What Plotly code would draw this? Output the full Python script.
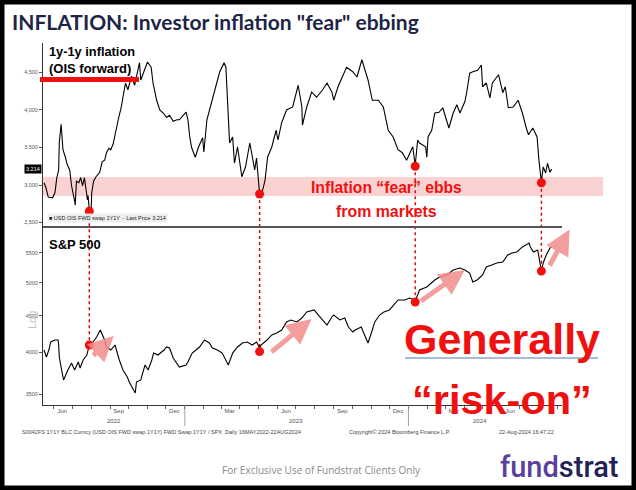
import math
import pandas as pd
import plotly.graph_objects as go

# ---------------- data ----------------
infl_dates = [
    "2022-05-16", "2022-05-19", "2022-05-23", "2022-05-30", "2022-06-03", "2022-06-06", "2022-06-09",
    "2022-06-10", "2022-06-13", "2022-06-14", "2022-06-16", "2022-06-20", "2022-06-23", "2022-06-27",
    "2022-06-30", "2022-07-05", "2022-07-06", "2022-07-08", "2022-07-12", "2022-07-15", "2022-07-18",
    "2022-07-21", "2022-07-25", "2022-07-26", "2022-07-27", "2022-07-29", "2022-08-01", "2022-08-02",
    "2022-08-05", "2022-08-09", "2022-08-15", "2022-08-17", "2022-08-19", "2022-08-23", "2022-08-26",
    "2022-08-30", "2022-09-02", "2022-09-06", "2022-09-09", "2022-09-12", "2022-09-15", "2022-09-19",
    "2022-09-22", "2022-09-26", "2022-09-30", "2022-10-06", "2022-10-11", "2022-10-19", "2022-10-21",
    "2022-10-26", "2022-11-01", "2022-11-07", "2022-11-10", "2022-11-16", "2022-11-21", "2022-11-28",
    "2022-12-02", "2022-12-07", "2022-12-13", "2022-12-19", "2022-12-23", "2023-01-03", "2023-01-06",
    "2023-01-09", "2023-01-12", "2023-01-18", "2023-01-23", "2023-01-30", "2023-02-01", "2023-02-06",
    "2023-02-14", "2023-02-22", "2023-02-27", "2023-03-06", "2023-03-09", "2023-03-13", "2023-03-15",
    "2023-03-20", "2023-03-23", "2023-03-28", "2023-04-04", "2023-04-10", "2023-04-17", "2023-04-20",
    "2023-04-25", "2023-04-28", "2023-05-03", "2023-05-08", "2023-05-12", "2023-05-16", "2023-05-23",
    "2023-05-30", "2023-06-02", "2023-06-08", "2023-06-16", "2023-06-26", "2023-06-30", "2023-07-05",
    "2023-07-11", "2023-07-12", "2023-07-19", "2023-07-27", "2023-08-04", "2023-08-14", "2023-08-21",
    "2023-08-29", "2023-09-01", "2023-09-08", "2023-09-15", "2023-09-22", "2023-10-02", "2023-10-09",
    "2023-10-17", "2023-10-23", "2023-10-27", "2023-11-03", "2023-11-13", "2023-11-21", "2023-11-29",
    "2023-12-07", "2023-12-15", "2023-12-22", "2023-12-29", "2024-01-08", "2024-01-12", "2024-01-16",
    "2024-01-19", "2024-01-29", "2024-01-31", "2024-02-02", "2024-02-08", "2024-02-13", "2024-02-20",
    "2024-02-26", "2024-03-01", "2024-03-07", "2024-03-14", "2024-03-20", "2024-03-25", "2024-04-02",
    "2024-04-05", "2024-04-10", "2024-04-15", "2024-04-23", "2024-04-29", "2024-05-01", "2024-05-07",
    "2024-05-13", "2024-05-17", "2024-05-27", "2024-06-03", "2024-06-07", "2024-06-12", "2024-06-20",
    "2024-06-28", "2024-07-05", "2024-07-11", "2024-07-15", "2024-07-22", "2024-07-29", "2024-08-01",
    "2024-08-05", "2024-08-08", "2024-08-12", "2024-08-15", "2024-08-19", "2024-08-22",
]
infl_vals = [
    3.03, 2.97, 2.84, 2.83, 2.90, 3.10, 3.20,
    3.56, 3.81, 3.73, 3.47, 3.37, 3.27, 3.20,
    2.99, 2.79, 2.73, 3.05, 3.03, 3.10, 2.99,
    3.10, 2.85, 2.80, 2.86, 2.66, 2.68, 2.90,
    3.05, 3.11, 3.17, 3.25, 3.31, 3.33, 3.43,
    3.49, 3.47, 3.55, 3.67, 3.81, 3.90, 4.03,
    4.16, 4.36, 4.27, 4.45, 4.33, 4.63, 4.40,
    4.52, 4.64, 4.57, 4.36, 4.13, 4.00, 3.95,
    3.90, 3.93, 3.85, 3.87, 3.87, 3.97, 3.87,
    3.64, 3.50, 3.37, 3.50, 3.63, 3.44, 3.87,
    4.13, 4.36, 4.51, 4.63, 4.57, 3.73, 3.56,
    3.64, 3.29, 3.51, 3.11, 3.24, 3.56, 3.43,
    3.20, 3.36, 2.88, 2.93, 3.07, 3.37, 3.51,
    3.73, 3.60, 3.83, 4.00, 4.04, 4.17, 4.33,
    4.04, 3.80, 4.04, 4.24, 4.17, 4.27, 4.36,
    4.24, 4.13, 4.31, 4.44, 4.57, 4.51, 4.44,
    4.67, 4.49, 4.40, 4.13, 4.13, 4.04, 3.73,
    3.64, 3.47, 3.43, 3.33, 3.51, 3.26, 3.60,
    3.56, 3.51, 3.37, 3.64, 3.73, 3.96, 3.97,
    4.03, 3.91, 3.76, 3.96, 4.07, 3.96, 4.11,
    4.23, 4.49, 4.51, 4.53, 4.60, 4.31, 4.36,
    4.16, 4.36, 4.47, 4.23, 4.31, 4.03, 4.04,
    4.13, 3.96, 3.77, 3.67, 3.76, 3.64, 3.33,
    3.04, 3.24, 3.16, 3.29, 3.17, 3.214,
]

spx_dates = [
    "2022-05-16", "2022-05-20", "2022-05-24", "2022-05-27", "2022-06-03", "2022-06-08", "2022-06-09",
    "2022-06-10", "2022-06-13", "2022-06-16", "2022-06-17", "2022-06-24", "2022-06-30", "2022-07-05",
    "2022-07-11", "2022-07-14", "2022-07-19", "2022-07-25", "2022-07-29", "2022-08-04", "2022-08-10",
    "2022-08-16", "2022-08-18", "2022-08-23", "2022-08-26", "2022-09-02", "2022-09-09", "2022-09-13",
    "2022-09-16", "2022-09-22", "2022-09-29", "2022-10-03", "2022-10-07", "2022-10-12", "2022-10-14",
    "2022-10-21", "2022-10-28", "2022-11-02", "2022-11-08", "2022-11-11", "2022-11-18", "2022-11-28",
    "2022-12-02", "2022-12-07", "2022-12-13", "2022-12-19", "2022-12-23", "2023-01-03", "2023-01-06",
    "2023-01-13", "2023-01-20", "2023-01-25", "2023-02-02", "2023-02-10", "2023-02-15", "2023-02-23",
    "2023-03-03", "2023-03-13", "2023-03-20", "2023-03-28", "2023-04-05", "2023-04-13", "2023-04-21",
    "2023-04-28", "2023-05-03", "2023-05-05", "2023-05-15", "2023-05-23", "2023-05-31", "2023-06-08",
    "2023-06-16", "2023-06-23", "2023-07-03", "2023-07-11", "2023-07-19", "2023-07-31", "2023-08-07",
    "2023-08-14", "2023-08-21", "2023-08-29", "2023-09-01", "2023-09-11", "2023-09-19", "2023-09-25",
    "2023-10-02", "2023-10-06", "2023-10-16", "2023-10-20", "2023-10-27", "2023-11-03", "2023-11-07",
    "2023-11-15", "2023-11-22", "2023-12-01", "2023-12-08", "2023-12-15", "2023-12-26", "2024-01-03",
    "2024-01-11", "2024-01-12", "2024-01-16", "2024-01-19", "2024-01-31", "2024-02-13", "2024-02-21",
    "2024-03-04", "2024-03-14", "2024-03-25", "2024-04-02", "2024-04-10", "2024-04-15", "2024-04-22",
    "2024-05-01", "2024-05-07", "2024-05-16", "2024-05-24", "2024-06-03", "2024-06-11", "2024-06-18",
    "2024-06-26", "2024-07-05", "2024-07-16", "2024-07-18", "2024-07-23", "2024-07-30", "2024-08-01",
    "2024-08-05", "2024-08-08", "2024-08-13", "2024-08-19", "2024-08-22",
]
spx_vals = [
    4030, 3941, 4030, 4135, 4161, 4161, 4095,
    3941, 3816, 3696, 3661, 3780, 3866, 3780,
    3878, 3804, 3903, 3966, 4095, 4135, 4201,
    4297, 4256, 4161, 4069, 4030, 4095, 3966,
    3903, 3780, 3696, 3626, 3579, 3511, 3637,
    3661, 3841, 3780, 3903, 3991, 3966, 4030,
    4069, 4056, 3928, 3866, 3816, 3841, 3878,
    3991, 4030, 4069, 4161, 4122, 4056, 4030,
    3991, 3841, 3991, 4069, 4122, 4135, 4095,
    4135, 4060, 4090, 4161, 4229, 4256, 4297,
    4409, 4437, 4409, 4465, 4552, 4582, 4508,
    4437, 4366, 4480, 4508, 4437, 4465, 4338,
    4269, 4297, 4338, 4256, 4122, 4297, 4409,
    4508, 4552, 4582, 4655, 4731, 4731, 4761,
    4731, 4720, 4807, 4885, 4932, 5044, 5093,
    5125, 5208, 5241, 5208, 5158, 5012, 5044,
    5125, 5259, 5292, 5326, 5343, 5465, 5500,
    5517, 5607, 5679, 5607, 5517, 5553, 5412,
    5190, 5326, 5465, 5589, 5600,
]

# "fear ebbs" events (red dots) on both panels
event_dates = ["2022-07-29", "2023-05-03", "2024-01-12", "2024-08-05"]
event_infl = [2.65, 2.88, 3.25, 3.03]
event_spx = [4095, 4010, 4700, 5190]

# pink "risk-on" arrows on the S&P panel (tail -> head)
arrow_tail_dates = ["2022-08-02", "2023-05-20", "2024-01-19", "2024-08-17"]
arrow_tail_vals = [3941, 3991, 4700, 5259]
arrow_head_dates = ["2022-09-07", "2023-07-27", "2024-04-02", "2024-09-20"]
arrow_head_vals = [4215, 4451, 5208, 5930]

infl_band = [2.853, 3.107]
last_price = 3.214

infl_ticks = [2.5, 3.0, 3.5, 4.0, 4.5]
infl_ticktext = ["2,500", "3,000", "3,500", "4,000", "4,500"]
spx_ticks = [3500, 4000, 4500, 5000, 5500]
spx_ticktext = ["3500", "4000", "4500", "5000", "5500"]

month_label_dates = ["2022-06-15", "2022-09-15", "2022-12-15", "2023-03-15", "2023-06-15",
                     "2023-09-15", "2023-12-15", "2024-03-15", "2024-06-15"]
month_labels = ["Jun", "Sep", "Dec", "Mar", "Jun", "Sep", "Dec", "Mar", "Jun"]
year_label_dates = ["2022-09-08", "2023-07-02", "2024-04-27"]
year_labels = ["2022", "2023", "2024"]
year_breaks = ["2023-01-01", "2024-01-01"]
month_starts = [d.strftime("%Y-%m-%d") for d in pd.date_range("2022-06-01", "2024-09-01", freq="MS")]

# ---------------- layout helpers ----------------
W, H = 636, 490


def fx(p):
    return p / W


def fy(p):
    return 1 - p / H


X_DOMAIN = [fx(43), fx(562)]
X_RANGE = ["2022-05-14 10:00", "2024-09-07 16:00"]
Y1_DOMAIN = [fy(228), fy(43)]
Y1_RANGE = [2.427, 4.893]
Y2_DOMAIN = [fy(405), fy(228)]
Y2_RANGE = [math.log10(3379), math.log10(5958)]


def infl_to_paper(v):
    f = (v - Y1_RANGE[0]) / (Y1_RANGE[1] - Y1_RANGE[0])
    return Y1_DOMAIN[0] + f * (Y1_DOMAIN[1] - Y1_DOMAIN[0])


def spx_to_paper(v):
    f = (math.log10(v) - Y2_RANGE[0]) / (Y2_RANGE[1] - Y2_RANGE[0])
    return Y2_DOMAIN[0] + f * (Y2_DOMAIN[1] - Y2_DOMAIN[0])


BOLD = "Liberation Sans, Arial, sans-serif"
SANS = "Liberation Sans, Arial, sans-serif"
RED = "#f01010"

fig = go.Figure()
fig.add_trace(go.Scatter(x=infl_dates, y=infl_vals, xaxis="x", yaxis="y", mode="lines",
                         line=dict(color="black", width=1.1), hoverinfo="skip"))
fig.add_trace(go.Scatter(x=spx_dates, y=spx_vals, xaxis="x", yaxis="y2", mode="lines",
                         line=dict(color="black", width=1.1), hoverinfo="skip"))
fig.add_trace(go.Scatter(x=event_dates, y=event_infl, xaxis="x", yaxis="y", mode="markers",
                         marker=dict(size=9, color=RED), hoverinfo="skip"))
fig.add_trace(go.Scatter(x=event_dates, y=event_spx, xaxis="x", yaxis="y2", mode="markers",
                         marker=dict(size=9, color=RED), hoverinfo="skip"))

shapes = []
# pink band
shapes.append(dict(type="rect", xref="paper", yref="y", x0=fx(43), x1=fx(603),
                   y0=infl_band[0], y1=infl_band[1], fillcolor="rgba(245,130,130,0.36)",
                   line=dict(width=0), layer="below"))
# dotted connectors
for d, vi, vs in zip(event_dates, event_infl, event_spx):
    shapes.append(dict(type="line", xref="x", yref="paper", x0=d, x1=d,
                       y0=infl_to_paper(vi), y1=spx_to_paper(vs),
                       line=dict(color="#d40000", width=1.4, dash="dot"), layer="below"))
# panel separator
shapes.append(dict(type="line", xref="paper", yref="paper", x0=fx(43), x1=fx(562),
                   y0=fy(227), y1=fy(227), line=dict(color="#555555", width=2)))
# year separators on the time axis
for d in year_breaks:
    shapes.append(dict(type="line", xref="x", yref="paper", x0=d, x1=d,
                       y0=fy(405), y1=fy(426), line=dict(color="#888888", width=0.8)))
# red bar under the upper label
shapes.append(dict(type="rect", xref="paper", yref="paper", x0=fx(40), x1=fx(139),
                   y0=fy(82), y1=fy(77), fillcolor="#ee1111", line=dict(width=0)))
# underline of "Generally"
shapes.append(dict(type="line", xref="paper", yref="paper", x0=fx(405), x1=fx(598),
                   y0=fy(358), y1=fy(358), line=dict(color="#a7bbdc", width=2)))
# outer black frame
shapes.append(dict(type="rect", xref="paper", yref="paper", x0=0, x1=1, y0=0, y1=1,
                   line=dict(color="black", width=9), fillcolor="rgba(0,0,0,0)"))

ann = []
ann.append(dict(xref="paper", yref="paper", x=fx(10), y=fy(22), xanchor="left", yanchor="middle",
                text="<b>INFLATION: Investor inflation \"fear\" ebbing</b>", showarrow=False,
                font=dict(family="Lato, Open Sans, sans-serif", size=21, color="#1d2447")))
ann.append(dict(xref="paper", yref="paper", x=fx(47), y=fy(51), xanchor="left", yanchor="middle",
                text="<b>1y-1y inflation</b>", showarrow=False,
                font=dict(family=BOLD, size=12.8, color="black")))
ann.append(dict(xref="paper", yref="paper", x=fx(47), y=fy(68), xanchor="left", yanchor="middle",
                text="<b>(OIS forward)</b>", showarrow=False,
                font=dict(family=BOLD, size=13, color="black")))
ann.append(dict(xref="paper", yref="paper", x=fx(47), y=fy(244), xanchor="left", yanchor="middle",
                text="<b>S&P 500</b>", showarrow=False,
                font=dict(family=BOLD, size=13, color="black")))
ann.append(dict(xref="paper", yref="paper", x=fx(386), y=fy(188), xanchor="center", yanchor="middle",
                text="<b>Inflation \u201cfear\u201d ebbs</b>", showarrow=False,
                font=dict(family=BOLD, size=15.7, color=RED)))
ann.append(dict(xref="paper", yref="paper", x=fx(386), y=fy(211), xanchor="center", yanchor="middle",
                text="<b>from markets</b>", showarrow=False,
                font=dict(family=BOLD, size=15.9, color=RED)))
ann.append(dict(xref="paper", yref="paper", x=fx(502), y=fy(339), xanchor="center", yanchor="middle",
                text="<b>Generally</b>", showarrow=False,
                font=dict(family=BOLD, size=43, color=RED)))
ann.append(dict(xref="paper", yref="paper", x=fx(502), y=fy(399), xanchor="center", yanchor="middle",
                text="<b>\u201crisk-on\u201d</b>", showarrow=False,
                font=dict(family=BOLD, size=41.5, color=RED)))
# arrows
for td, tv, hd, hv in zip(arrow_tail_dates, arrow_tail_vals, arrow_head_dates, arrow_head_vals):
    ann.append(dict(xref="x", yref="y2", axref="x", ayref="y2", x=hd, y=math.log10(hv),
                    ax=td, ay=math.log10(tv), text="", showarrow=True, arrowhead=2,
                    arrowsize=1.0, arrowwidth=5, arrowcolor="rgba(243,140,140,0.85)"))
# legend / last price
ann.append(dict(xref="paper", yref="paper", x=fx(47), y=fy(218), xanchor="left", yanchor="middle",
                text="\u25a0 USD OIS FWD swap 1Y1Y  - Last Price 3.214", showarrow=False,
                bgcolor="rgba(236,236,236,0.9)", borderpad=1,
                font=dict(family=SANS, size=5.5, color="#222222")))
ann.append(dict(xref="paper", yref="y", x=fx(42), y=last_price, xanchor="right", yanchor="middle",
                text="3.214", showarrow=False, bgcolor="black", borderpad=1,
                font=dict(family=SANS, size=5.5, color="white")))
ann.append(dict(xref="paper", yref="paper", x=fx(32), y=fy(320), xanchor="center", yanchor="middle",
                text="Log", textangle=-90, showarrow=False,
                font=dict(family=SANS, size=11, color="#c4c4c4")))
# year labels
for d, t in zip(year_label_dates, year_labels):
    ann.append(dict(xref="x", yref="paper", x=d, y=fy(421), xanchor="center", yanchor="middle",
                    text=t, showarrow=False, font=dict(family=SANS, size=6, color="#555555")))
# footer
ann.append(dict(xref="paper", yref="paper", x=fx(20), y=fy(432), xanchor="left", yanchor="middle",
                text="S0042FS 1Y1Y BLC Curncy (USD OIS FWD swap 1Y1Y) FWD Swap 1Y1Y / SPX  Daily 16MAY2022-22AUG2024",
                showarrow=False, font=dict(family=SANS, size=5.5, color="#444444")))
ann.append(dict(xref="paper", yref="paper", x=fx(347), y=fy(432), xanchor="left", yanchor="middle",
                text="Copyright\u00a9 2024 Bloomberg Finance L.P.", showarrow=False,
                font=dict(family=SANS, size=5.5, color="#444444")))
ann.append(dict(xref="paper", yref="paper", x=fx(497), y=fy(432), xanchor="left", yanchor="middle",
                text="22-Aug-2024 16:47:22", showarrow=False,
                font=dict(family=SANS, size=5.5, color="#444444")))
ann.append(dict(xref="paper", yref="paper", x=fx(321), y=fy(470), xanchor="center", yanchor="middle",
                text="For Exclusive Use of Fundstrat Clients Only", showarrow=False,
                font=dict(family="Open Sans, sans-serif", size=10, color="#8a8a8a")))
ann.append(dict(xref="paper", yref="paper", x=fx(620), y=fy(467), xanchor="right", yanchor="middle",
                text="<span style='color:#5b3f9e'>fund</span><span style='color:#222257'>strat</span>",
                showarrow=False,
                font=dict(family="Roboto, sans-serif", size=29, color="#222257", weight=500)))

axis_font = dict(family=SANS, size=6, color="#555555")
fig.update_layout(
    width=W, height=H, margin=dict(l=0, r=0, t=0, b=0),
    paper_bgcolor="white", plot_bgcolor="white", showlegend=False,
    xaxis=dict(domain=X_DOMAIN, range=X_RANGE, type="date", anchor="y2",
               showline=True, linecolor="#333333", linewidth=1, showgrid=False, zeroline=False,
               tickmode="array", tickvals=month_label_dates, ticktext=month_labels,
               ticks="", tickfont=axis_font,
               minor=dict(tickvals=month_starts, ticks="outside", ticklen=3, tickcolor="#666666",
                          showgrid=False)),
    yaxis=dict(domain=Y1_DOMAIN, range=Y1_RANGE, anchor="x", showline=True, linecolor="#333333",
               linewidth=1, showgrid=False, zeroline=False, ticks="outside", ticklen=3,
               tickcolor="#555555", tickmode="array", tickvals=infl_ticks, ticktext=infl_ticktext,
               tickfont=dict(family=SANS, size=5.5, color="#555555")),
    yaxis2=dict(domain=Y2_DOMAIN, range=Y2_RANGE, type="log", anchor="x", showline=True,
                linecolor="#333333", linewidth=1, showgrid=False, zeroline=False, ticks="outside",
                ticklen=3, tickcolor="#555555", tickmode="array", tickvals=spx_ticks,
                ticktext=spx_ticktext, tickfont=dict(family=SANS, size=5.5, color="#555555")),
    shapes=shapes, annotations=ann,
)

fig.write_html("out.html")
